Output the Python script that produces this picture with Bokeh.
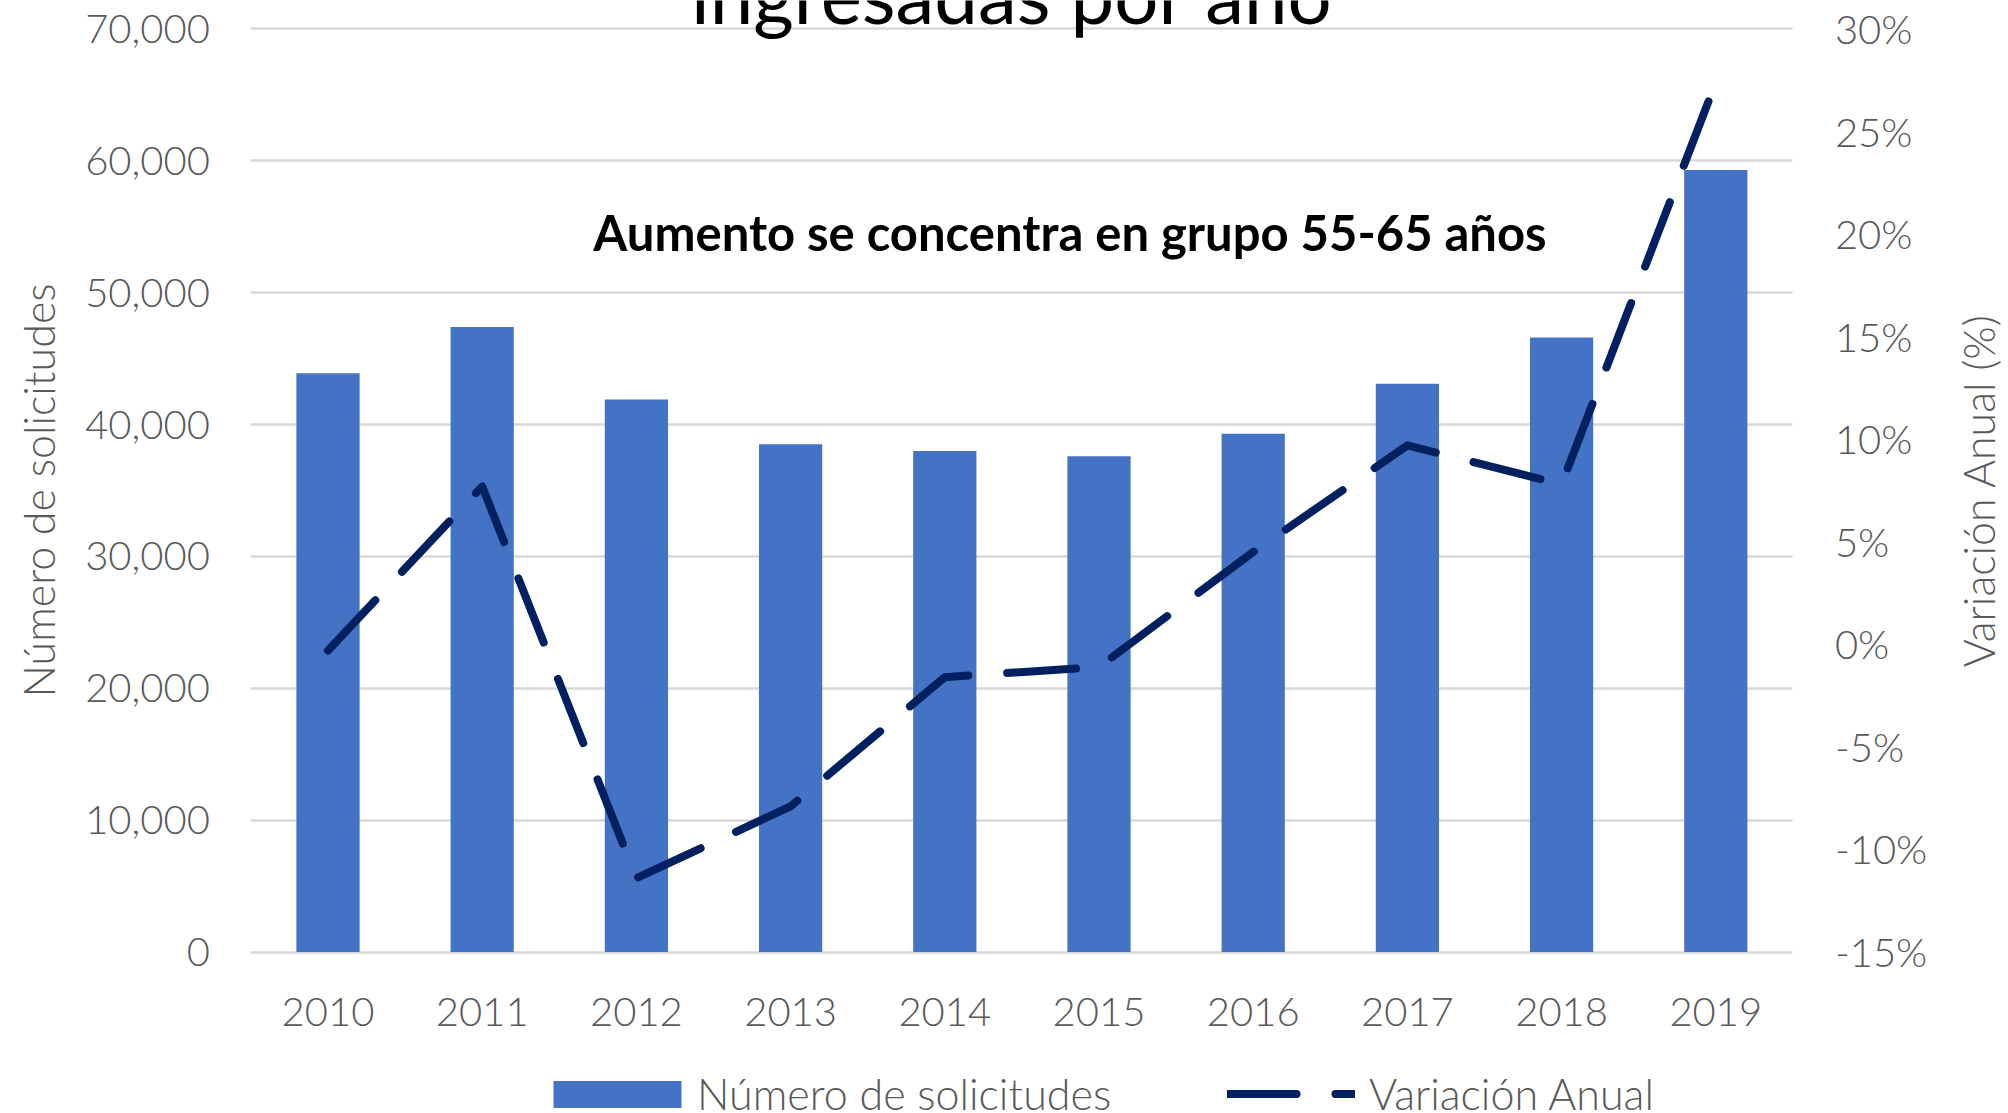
import math
from bokeh.plotting import figure
from bokeh.models import (Range1d, LinearAxis, FixedTicker, NumeralTickFormatter,
                          PrintfTickFormatter, Label, Legend, LegendItem)
from bokeh.core.properties import value
from bokeh.embed import file_html
from bokeh.resources import INLINE

years = ["2010", "2011", "2012", "2013", "2014", "2015", "2016", "2017", "2018", "2019"]
solicitudes = [43900, 47400, 41900, 38500, 38000, 37600, 39300, 43100, 46600, 59300]
variacion = [-0.3, 7.7, -11.4, -7.9, -1.6, -1.1, 4.5, 9.7, 7.8, 27.4]
left_ticks = [0, 10000, 20000, 30000, 40000, 50000, 60000, 70000]
right_ticks = [-15, -10, -5, 0, 5, 10, 15, 20, 25, 30]

title_text = "ingresadas por año"
note_text = "Aumento se concentra en grupo 55-65 años"
left_label = "Número de solicitudes"
right_label = "Variación Anual (%)"
bar_name = "Número de solicitudes"
line_name = "Variación Anual"

xs = list(range(len(years)))          # category slots, one per year
year_labels = dict(zip(xs, years))

GREY = "#595959"
LIGHT = "Lato Light"
FS = "40px"
FS_LAB = "43px"

# The plotting frame covers the whole canvas; the axes are pinned inside it.
p = figure(x_range=Range1d(-2.1239, 10.8982), y_range=Range1d(-12248, 72161),
           width=2008, height=1113,
           min_border_left=0, min_border_right=0, min_border_top=0, min_border_bottom=0,
           output_backend="svg", toolbar_location=None)
p.outline_line_color = None
p.extra_y_ranges = {"pct": Range1d(-22.874, 31.39)}

bars = p.vbar(x=xs, top=solicitudes, width=0.41, fill_color="#4472C4", line_color=None)
line = p.line(x=xs, y=variacion, y_range_name="pct", line_color="#002060", line_width=8,
              line_dash="69 39", line_cap="round", line_join="round")

p.xgrid.visible = False
ya = p.yaxis[0]
ya.ticker = FixedTicker(ticks=left_ticks)
ya.formatter = NumeralTickFormatter(format="0,0")
ya.fixed_location = -0.5

grid_ok = True
try:
    p.ygrid.cross_bounds = (-0.5, 9.5)
except Exception:
    grid_ok = False
if grid_ok:
    p.ygrid.ticker = FixedTicker(ticks=left_ticks)
    p.ygrid.grid_line_color = "#d9d9d9"
    p.ygrid.grid_line_width = 2.5
else:
    p.ygrid.visible = False
    ya.level = "underlay"
    ya.major_tick_in = 1542
    ya.major_tick_out = 0
    ya.major_tick_line_color = "#d9d9d9"
    ya.major_tick_line_width = 2.5

ra = LinearAxis(y_range_name="pct", ticker=FixedTicker(ticks=right_ticks),
                formatter=PrintfTickFormatter(format="%d%%"), fixed_location=9.5)
p.add_layout(ra, "right")

xa = p.xaxis[0]
xa.ticker = FixedTicker(ticks=xs)
xa.major_label_overrides = year_labels
xa.fixed_location = 0

for ax in [ya, ra, xa]:
    ax.axis_line_color = None
    if not (ax is ya and not grid_ok):
        ax.major_tick_line_color = None
    ax.minor_tick_line_color = None
    ax.major_label_text_font = LIGHT
    ax.major_label_text_font_size = FS
    ax.major_label_text_color = GREY

ya.major_label_standoff = 35
ra.major_label_standoff = 36
xa.major_label_standoff = 40

# axis titles
p.add_layout(Label(x=38, y=623, x_units="screen", y_units="screen", text=left_label,
                   angle=math.pi / 2, text_align="center", text_baseline="middle",
                   text_font=LIGHT, text_font_size=FS_LAB, text_color=GREY))
p.add_layout(Label(x=1978, y=623, x_units="screen", y_units="screen", text=right_label,
                   angle=math.pi / 2, text_align="center", text_baseline="middle",
                   text_font=LIGHT, text_font_size=FS_LAB, text_color=GREY))

common = dict(orientation="horizontal", padding=0, margin=0, border_line_color=None,
              background_fill_alpha=0, label_text_font=LIGHT, label_text_font_size=FS_LAB,
              label_text_color=GREY)
leg1 = Legend(items=[LegendItem(label=value(bar_name), renderers=[bars])],
              location=(537, -6), glyph_width=160, glyph_height=34, label_standoff=0, **common)
leg2 = Legend(items=[LegendItem(label=value(line_name), renderers=[line])],
              location=(1227, -6), glyph_width=128, glyph_height=27, label_standoff=14, **common)
p.add_layout(leg1, "center")
p.add_layout(leg2, "center")

p.add_layout(Label(x=1011.7, y=1120, x_units="screen", y_units="screen", text=title_text,
                   text_align="center", text_baseline="middle", text_font="Lato",
                   text_font_size="78px", text_color="#000000"))
p.add_layout(Label(x=1069.5, y=882, x_units="screen", y_units="screen", text=note_text,
                   text_align="center", text_baseline="middle", text_font="Lato",
                   text_font_style="bold", text_font_size="49px", text_color="#000000"))

open("out.html", "w").write(file_html(p, INLINE))
